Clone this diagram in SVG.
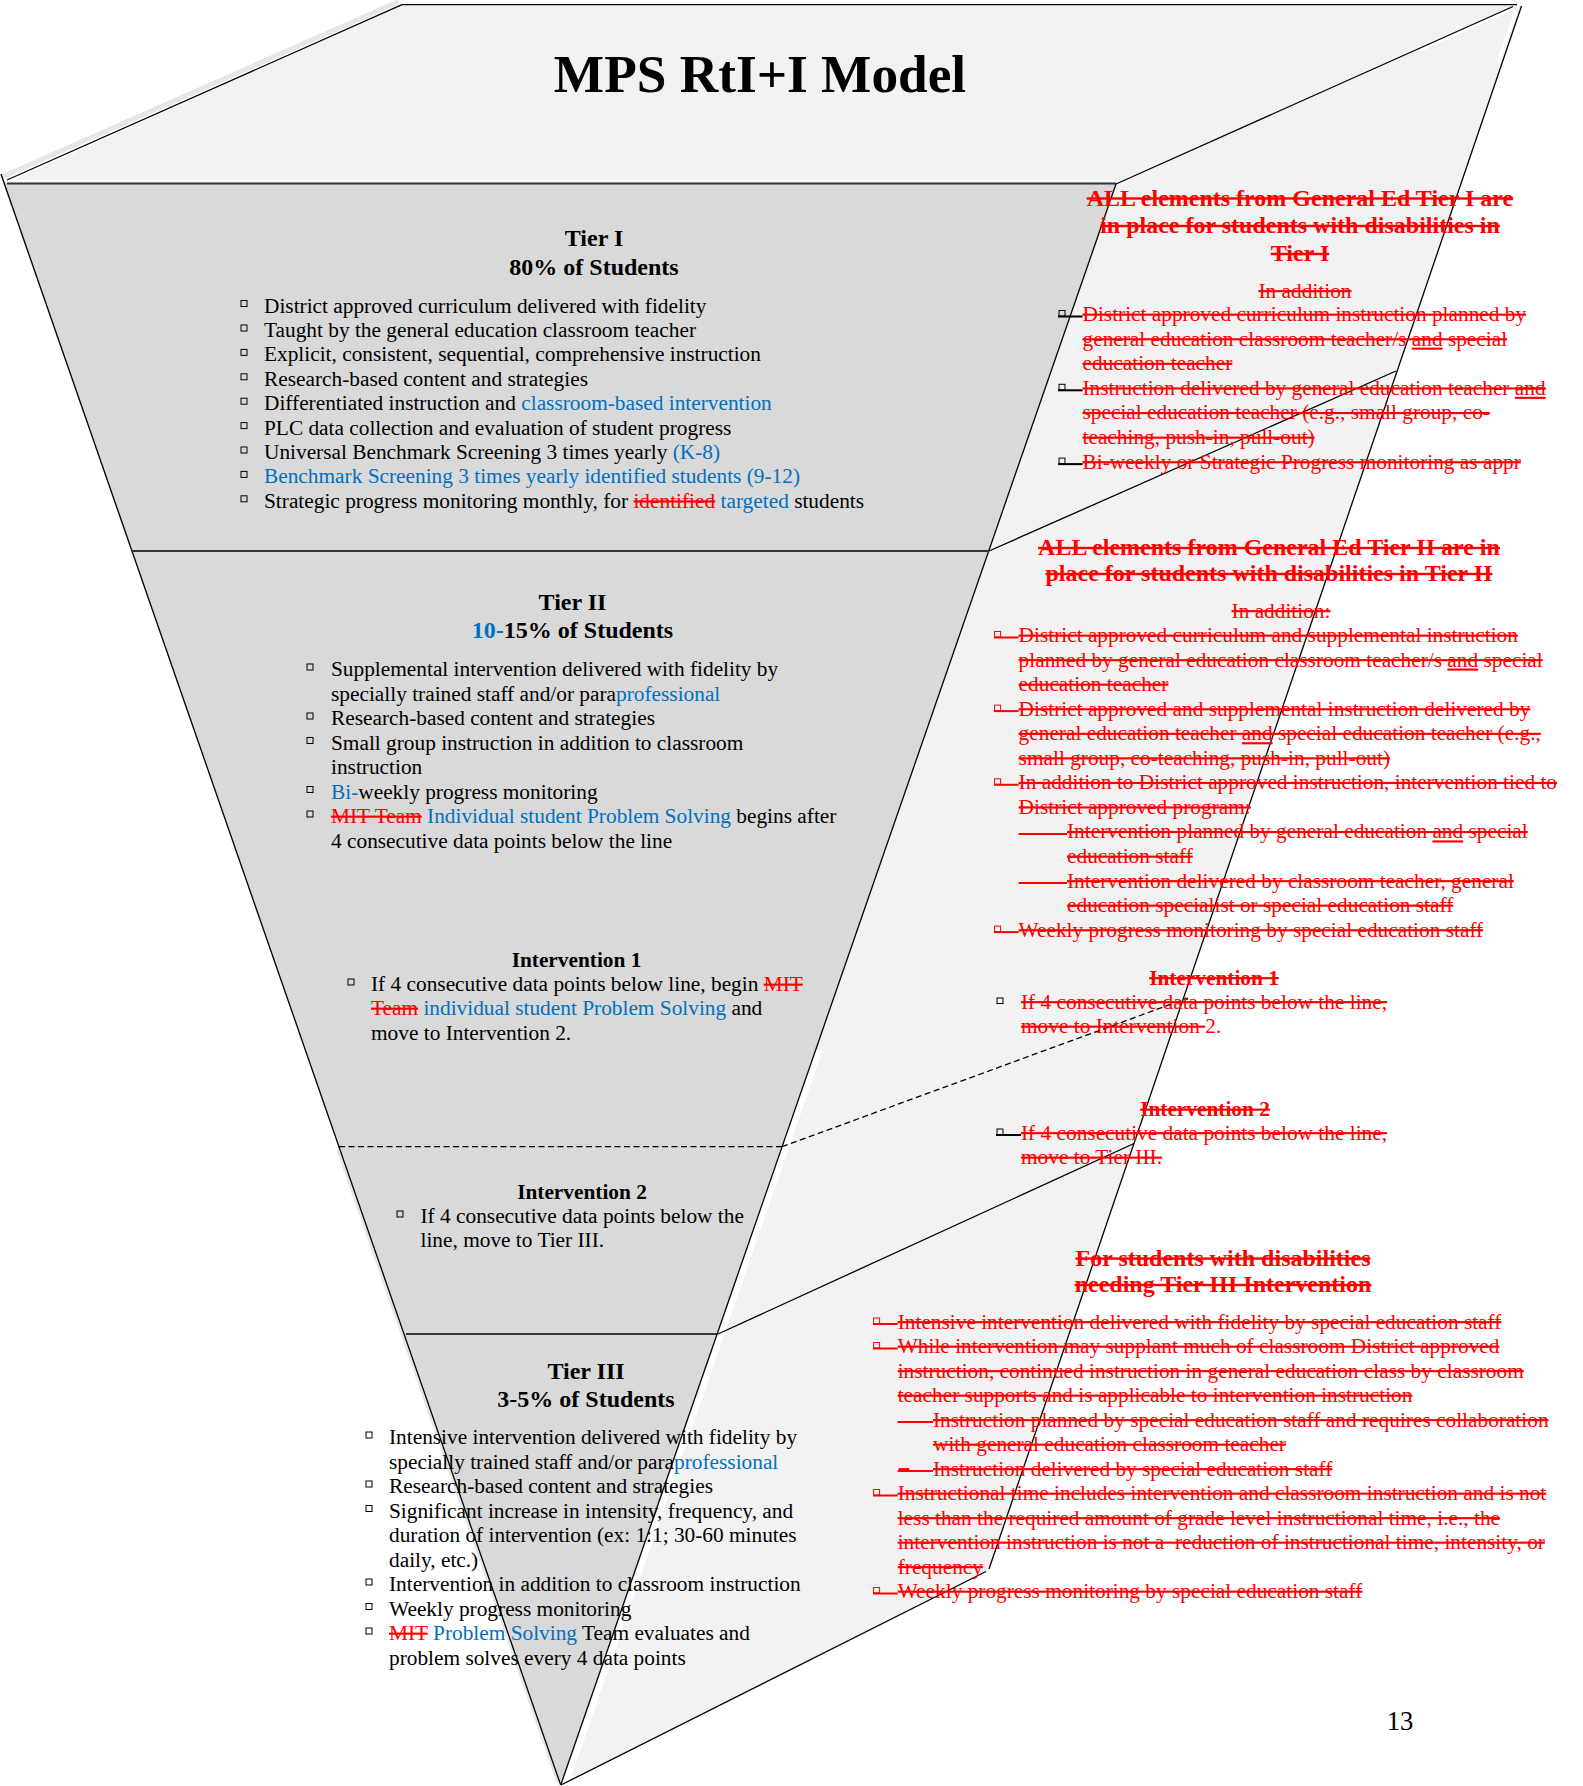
<svg xmlns="http://www.w3.org/2000/svg" width="1583" height="1786" viewBox="0 0 1583 1786">
<style>
.t{font-family:"Liberation Serif","Times New Roman",serif;font-size:21.33px;fill:#000}
.h{font-weight:bold;font-size:24px}
.hs{font-weight:bold}
.c{text-anchor:middle}
.b{fill:#0070c0}
.r{fill:#ff0000;text-decoration:line-through}
.rs{fill:#ff0000;text-decoration:line-through}
.u{text-decoration:underline line-through}
.sq{fill:none;stroke:#000;stroke-width:1}
.sqr{fill:none;stroke:#ff0000;stroke-width:1}
.dk{stroke:#000;stroke-width:2}
.dr{stroke:#ff0000;stroke-width:2}
.ln{fill:none;stroke:#000;stroke-width:1.3}
.sep{fill:none;stroke:#333;stroke-width:1.8}
.dash{fill:none;stroke:#000;stroke-width:1.3;stroke-dasharray:6 3.5}
</style>
<rect width="1583" height="1786" fill="#fff"/>
<g id="pyramid">
  <line x1="399" y1="1.5" x2="2" y2="177" stroke="#e6e6e6" stroke-width="5"/>
  <polygon id="top-face" points="402,4.7 1517,4.7 1116,183.5 7,183" fill="#f2f2f2"/>
  <polygon id="right-face" points="1517,5 1521.5,6 989,1569 986,1571.5 561,1785 1116,184" fill="#f2f2f2"/>
  <polygon id="front-face" points="3,183 1116,183 560.7,1785" fill="#d9d9d9"/>
  <line x1="819.5" y1="1050" x2="566" y2="1783" stroke="#fff" stroke-width="6"/>
  <line x1="338" y1="1150" x2="558" y2="1782" stroke="#e6e6e6" stroke-width="3"/>
  <line x1="1508" y1="11" x2="1420" y2="50" stroke="#fff" stroke-width="3"/>
  <line x1="1516" y1="12" x2="1498" y2="62" stroke="#fff" stroke-width="3"/>
  <line x1="10" y1="180.5" x2="1114" y2="180.5" stroke="#fff" stroke-width="2"/>
</g>
<g id="connectors">
  <line class="ln" x1="402" y1="4.7" x2="1517" y2="4.7"/>
  <line class="ln" x1="402" y1="4.7" x2="7" y2="180"/>
  <line class="sep" x1="7" y1="183.5" x2="1116" y2="183.5"/>
  <line class="ln" x1="1513" y1="6.5" x2="1116" y2="184"/>
  <line class="ln" x1="1521.5" y1="6" x2="989" y2="1569"/>
  <line class="ln" x1="986" y1="1571.5" x2="561" y2="1785"/>
  <line class="ln" x1="1" y1="174" x2="560.7" y2="1785"/>
  <line class="ln" x1="1116" y1="184" x2="560.7" y2="1785"/>
  <line class="sep" x1="132" y1="551" x2="989" y2="551"/>
  <line class="ln" x1="989" y1="551" x2="1396" y2="371"/>
  <line class="dash" x1="339" y1="1146.7" x2="782" y2="1146.7"/>
  <line class="dash" x1="782" y1="1146.7" x2="1188" y2="998"/>
  <line class="ln" x1="406" y1="1334" x2="718" y2="1334"/>
  <line class="ln" x1="718" y1="1334" x2="1134" y2="1143.5"/>
</g>
<g id="title">
  <text class="t c" x="760" y="92" style="font-weight:bold;font-size:53.3px">MPS RtI+I Model</text>
</g>
<g id="tier1">
  <text class="t h c" x="594" y="246">Tier I</text>
  <text class="t h c" x="594" y="275">80% of Students</text>
  <rect class="sq" x="241" y="300.5" width="6" height="6"/>
  <rect class="sq" x="241" y="325" width="6" height="6"/>
  <rect class="sq" x="241" y="349.4" width="6" height="6"/>
  <rect class="sq" x="241" y="373.8" width="6" height="6"/>
  <rect class="sq" x="241" y="398.2" width="6" height="6"/>
  <rect class="sq" x="241" y="422.6" width="6" height="6"/>
  <rect class="sq" x="241" y="447" width="6" height="6"/>
  <rect class="sq" x="241" y="471.4" width="6" height="6"/>
  <rect class="sq" x="241" y="495.8" width="6" height="6"/>
  <text class="t" x="264" y="312.5">District approved curriculum delivered with fidelity</text>
  <text class="t" x="264" y="337">Taught by the general education classroom teacher</text>
  <text class="t" x="264" y="361.4">Explicit, consistent, sequential, comprehensive instruction</text>
  <text class="t" x="264" y="385.8">Research-based content and strategies</text>
  <text class="t" x="264" y="410.2">Differentiated instruction and <tspan class="b">classroom-based intervention</tspan></text>
  <text class="t" x="264" y="434.6">PLC data collection and evaluation of student progress</text>
  <text class="t" x="264" y="459">Universal Benchmark Screening 3 times yearly <tspan class="b">(K-8)</tspan></text>
  <text class="t b" x="264" y="483.4">Benchmark Screening 3 times yearly identified students (9-12)</text>
  <text class="t" x="264" y="507.8">Strategic progress monitoring monthly, for <tspan class="r">identified</tspan> <tspan class="b">targeted</tspan> students</text>
</g>
<g id="tier2">
  <text class="t h c" x="572.5" y="610">Tier II</text>
  <text class="t h c" x="572.5" y="638"><tspan class="b">10-</tspan>15% of Students</text>
  <rect class="sq" x="307" y="664" width="6" height="6"/>
  <rect class="sq" x="307" y="713" width="6" height="6"/>
  <rect class="sq" x="307" y="737.5" width="6" height="6"/>
  <rect class="sq" x="307" y="786.5" width="6" height="6"/>
  <rect class="sq" x="307" y="811" width="6" height="6"/>
  <text class="t" x="331" y="676">Supplemental intervention delivered with fidelity by</text>
  <text class="t" x="331" y="700.5">specially trained staff and/or para<tspan class="b">professional</tspan></text>
  <text class="t" x="331" y="725">Research-based content and strategies</text>
  <text class="t" x="331" y="749.5">Small group instruction in addition to classroom</text>
  <text class="t" x="331" y="774">instruction</text>
  <text class="t" x="331" y="798.5"><tspan class="b">Bi-</tspan>weekly progress monitoring</text>
  <text class="t" x="331" y="823"><tspan class="r">MIT Team</tspan> <tspan class="b">Individual student Problem Solving</tspan> begins after</text>
  <text class="t" x="331" y="847.5">4 consecutive data points below the line</text>
</g>
<g id="intervention1">
  <text class="t hs c" x="576.5" y="967">Intervention 1</text>
  <rect class="sq" x="348" y="979" width="6" height="6"/>
  <text class="t" x="371" y="991">If 4 consecutive data points below line, begin <tspan class="r">MIT</tspan></text>
  <text class="t" x="371" y="1015"><tspan class="r">Team</tspan> <tspan class="b">individual student Problem Solving</tspan> and</text>
  <text class="t" x="371" y="1039.5">move to Intervention 2.</text>
</g>
<g id="intervention2">
  <text class="t hs c" x="582" y="1198.7">Intervention 2</text>
  <rect class="sq" x="397" y="1211" width="6" height="6"/>
  <text class="t" x="420.5" y="1223">If 4 consecutive data points below the</text>
  <text class="t" x="420.5" y="1247">line, move to Tier III.</text>
</g>
<g id="tier3">
  <text class="t h c" x="586" y="1379">Tier III</text>
  <text class="t h c" x="586" y="1407">3-5% of Students</text>
  <rect class="sq" x="366" y="1432" width="6" height="6"/>
  <rect class="sq" x="366" y="1481" width="6" height="6"/>
  <rect class="sq" x="366" y="1505.5" width="6" height="6"/>
  <rect class="sq" x="366" y="1579" width="6" height="6"/>
  <rect class="sq" x="366" y="1603.5" width="6" height="6"/>
  <rect class="sq" x="366" y="1628" width="6" height="6"/>
  <text class="t" x="389" y="1444">Intensive intervention delivered with fidelity by</text>
  <text class="t" x="389" y="1468.5">specially trained staff and/or para<tspan class="b">professional</tspan></text>
  <text class="t" x="389" y="1493">Research-based content and strategies</text>
  <text class="t" x="389" y="1517.5">Significant increase in intensity, frequency, and</text>
  <text class="t" x="389" y="1542">duration of intervention (ex: 1:1; 30-60 minutes</text>
  <text class="t" x="389" y="1566.5">daily, etc.)</text>
  <text class="t" x="389" y="1591">Intervention in addition to classroom instruction</text>
  <text class="t" x="389" y="1615.5">Weekly progress monitoring</text>
  <text class="t" x="389" y="1640"><tspan class="r">MIT</tspan> <tspan class="b">Problem Solving</tspan> Team evaluates and</text>
  <text class="t" x="389" y="1664.5">problem solves every 4 data points</text>
</g>
<g id="swd-tier1">
  <text class="t h c rs" x="1300" y="205.5">ALL elements from General Ed Tier I are</text>
  <text class="t h c rs" x="1300" y="233">in place for students with disabilities in</text>
  <text class="t h c rs" x="1300" y="261">Tier I</text>
  <text class="t c rs" x="1305" y="297.5">In addition</text>
  <rect class="sq" x="1059" y="310.5" width="6" height="5.5"/>
  <line class="dk" x1="1058" y1="316.5" x2="1082.5" y2="316.5"/>
  <rect class="sq" x="1059" y="384.3" width="6" height="5.5"/>
  <line class="dk" x1="1058" y1="390.3" x2="1082.5" y2="390.3"/>
  <rect class="sq" x="1059" y="458.1" width="6" height="5.5"/>
  <line class="dk" x1="1058" y1="464.1" x2="1082.5" y2="464.1"/>
  <text class="t rs" x="1082.5" y="321">District approved curriculum instruction planned by</text>
  <text class="t rs" x="1082.5" y="345.6">general education classroom teacher/s <tspan class="u">and</tspan> special</text>
  <text class="t rs" x="1082.5" y="370.2">education teacher</text>
  <text class="t rs" x="1082.5" y="394.8">Instruction delivered by general education teacher <tspan class="u">and</tspan></text>
  <text class="t rs" x="1082.5" y="419.4">special education teacher (e.g., small group, co-</text>
  <text class="t rs" x="1082.5" y="444">teaching, push-in, pull-out)</text>
  <text class="t rs" x="1082.5" y="468.6">Bi-weekly or Strategic Progress monitoring as appr</text>
</g>
<g id="swd-tier2">
  <text class="t h c rs" x="1269" y="555">ALL elements from General Ed Tier II are in</text>
  <text class="t h c rs" x="1269" y="581">place for students with disabilities in Tier II</text>
  <text class="t c rs" x="1281" y="617.5">In addition:</text>
  <rect class="sqr" x="994.6" y="631.5" width="6" height="5.5"/>
  <line class="dr" x1="994" y1="637.5" x2="1018.6" y2="637.5"/>
  <rect class="sqr" x="994.6" y="705.1" width="6" height="5.5"/>
  <line class="dr" x1="994" y1="711.1" x2="1018.6" y2="711.1"/>
  <rect class="sqr" x="994.6" y="778.8" width="6" height="5.5"/>
  <line class="dr" x1="994" y1="784.8" x2="1018.6" y2="784.8"/>
  <line class="dr" x1="1018.6" y1="833.9" x2="1067" y2="833.9"/>
  <line class="dr" x1="1018.6" y1="883" x2="1067" y2="883"/>
  <rect class="sqr" x="994.6" y="926.1" width="6" height="5.5"/>
  <line class="dr" x1="994" y1="932.1" x2="1018.6" y2="932.1"/>
  <text class="t rs" x="1018.6" y="642">District approved curriculum and supplemental instruction</text>
  <text class="t rs" x="1018.6" y="666.5">planned by general education classroom teacher/s <tspan class="u">and</tspan> special</text>
  <text class="t rs" x="1018.6" y="691">education teacher</text>
  <text class="t rs" x="1018.6" y="715.6">District approved and supplemental instruction delivered by</text>
  <text class="t rs" x="1018.6" y="740.2">general education teacher <tspan class="u">and</tspan> special education teacher (e.g.,</text>
  <text class="t rs" x="1018.6" y="764.7">small group, co-teaching, push-in, pull-out)</text>
  <text class="t rs" x="1018.6" y="789.3">In addition to District approved instruction, intervention tied to</text>
  <text class="t rs" x="1018.6" y="813.8">District approved program:</text>
  <text class="t rs" x="1067" y="838.4">Intervention planned by general education <tspan class="u">and</tspan> special</text>
  <text class="t rs" x="1067" y="863">education staff</text>
  <text class="t rs" x="1067" y="887.5">Intervention delivered by classroom teacher, general</text>
  <text class="t rs" x="1067" y="912">education specialist or special education staff</text>
  <text class="t rs" x="1018.6" y="936.6">Weekly progress monitoring by special education staff</text>
</g>
<g id="swd-intervention1">
  <text class="t hs c rs" x="1214" y="984.5">Intervention 1</text>
  <rect class="sq" x="997" y="998" width="6" height="5.5"/>
  <text class="t rs" x="1021" y="1008.5">If 4 consecutive data points below the line,</text>
  <text class="t" x="1021" y="1033"><tspan class="r">move to Intervention </tspan><tspan style="fill:#ff0000">2.</tspan></text>
</g>
<g id="swd-intervention2">
  <text class="t hs c rs" x="1205" y="1116">Intervention 2</text>
  <rect class="sq" x="997" y="1129" width="6" height="5.5"/>
  <line class="dk" x1="996" y1="1135" x2="1021" y2="1135"/>
  <text class="t rs" x="1021" y="1139.5">If 4 consecutive data points below the line,</text>
  <text class="t rs" x="1021" y="1164">move to Tier III.</text>
</g>
<g id="swd-tier3">
  <text class="t h c rs" x="1223" y="1265.6">For students with disabilities</text>
  <text class="t h c rs" x="1223" y="1292">needing Tier III Intervention</text>
  <rect class="sqr" x="873.6" y="1318" width="6" height="5.5"/>
  <line class="dr" x1="873" y1="1324" x2="897.7" y2="1324"/>
  <rect class="sqr" x="873.6" y="1342.5" width="6" height="5.5"/>
  <line class="dr" x1="873" y1="1348.5" x2="897.7" y2="1348.5"/>
  <line class="dr" x1="897.7" y1="1422" x2="933" y2="1422"/>
  <line class="dr" x1="897.7" y1="1471" x2="933" y2="1471"/>
  <rect class="sqr" x="873.6" y="1489.5" width="6" height="5.5"/>
  <line class="dr" x1="873" y1="1495.5" x2="897.7" y2="1495.5"/>
  <rect class="sqr" x="873.6" y="1587.5" width="6" height="5.5"/>
  <line class="dr" x1="873" y1="1593.5" x2="897.7" y2="1593.5"/>
  <text class="t rs" x="897.7" y="1328.5">Intensive intervention delivered with fidelity by special education staff</text>
  <text class="t rs" x="897.7" y="1353">While intervention may supplant much of classroom District approved</text>
  <text class="t rs" x="897.7" y="1377.5">instruction, continued instruction in general education class by classroom</text>
  <text class="t rs" x="897.7" y="1402">teacher supports and is applicable to intervention instruction</text>
  <text class="t rs" x="933" y="1426.5">Instruction planned by special education staff and requires collaboration</text>
  <text class="t rs" x="933" y="1451">with general education classroom teacher</text>
  <text class="t rs" x="898.5" y="1475.5">–</text>
  <text class="t rs" x="933" y="1475.5">Instruction delivered by special education staff</text>
  <text class="t rs" x="897.7" y="1500">Instructional time includes intervention and classroom instruction and is not</text>
  <text class="t rs" x="897.7" y="1524.5">less than the required amount of grade level instructional time, i.e., the</text>
  <text class="t rs" x="897.7" y="1549">intervention instruction is not a&#160; reduction of instructional time, intensity, or</text>
  <text class="t rs" x="897.7" y="1573.5">frequency</text>
  <text class="t rs" x="897.7" y="1598">Weekly progress monitoring by special education staff</text>
</g>
<g id="page-number">
  <text class="t c" x="1400" y="1730" style="font-size:26.7px">13</text>
</g>
</svg>
